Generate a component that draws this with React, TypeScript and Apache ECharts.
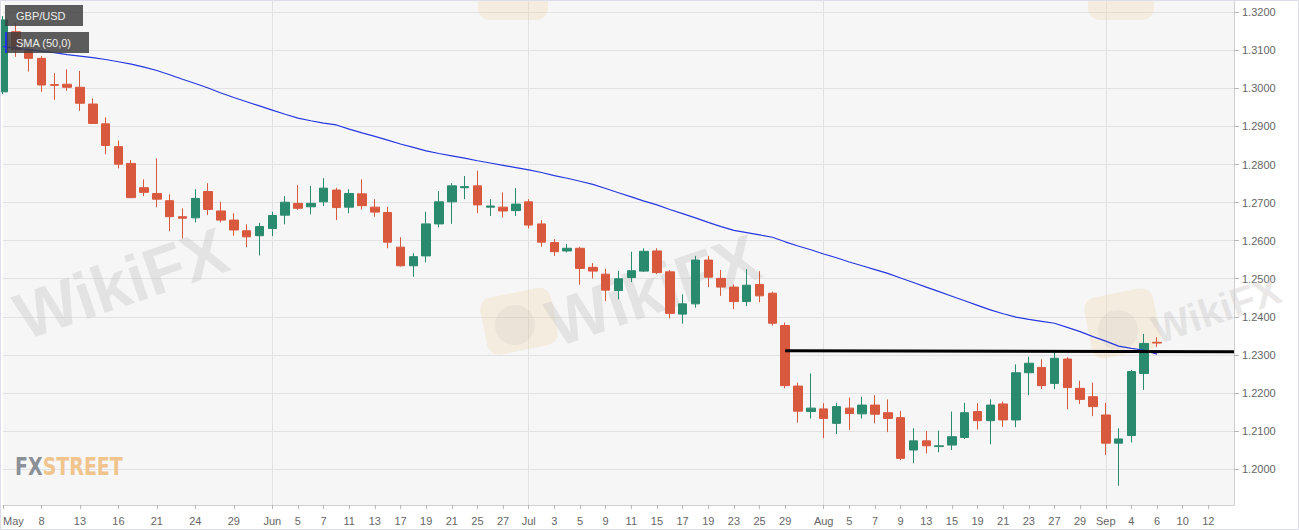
import React, { useEffect, useRef } from "react";
import * as echarts from "echarts";

// trading days (MM-DD, 2019), incl. empty future days on the right
const dates = [
  "05-03","05-06","05-07","05-08","05-09","05-10","05-13","05-14","05-15","05-16","05-17",
  "05-20","05-21","05-22","05-23","05-24","05-27","05-28","05-29","05-30","05-31",
  "06-03","06-04","06-05","06-06","06-07","06-10","06-11","06-12","06-13","06-14",
  "06-17","06-18","06-19","06-20","06-21","06-24","06-25","06-26","06-27","06-28",
  "07-01","07-02","07-03","07-04","07-05","07-08","07-09","07-10","07-11","07-12",
  "07-15","07-16","07-17","07-18","07-19","07-22","07-23","07-24","07-25","07-26",
  "07-29","07-30","07-31","08-01","08-02","08-05","08-06","08-07","08-08","08-09",
  "08-12","08-13","08-14","08-15","08-16","08-19","08-20","08-21","08-22","08-23",
  "08-26","08-27","08-28","08-29","08-30","09-02","09-03","09-04","09-05","09-06",
  "09-09","09-10","09-11","09-12","09-13","09-16",
];

const labelDates = [
  "05-03","05-08","05-13","05-16","05-21","05-24","05-29",
  "06-03","06-05","06-07","06-11","06-13","06-17","06-19","06-21","06-25","06-27",
  "07-01","07-03","07-05","07-09","07-11","07-15","07-17","07-19","07-23","07-25","07-29",
  "08-01","08-05","08-07","08-09","08-13","08-15","08-19","08-21","08-23","08-27","08-29",
  "09-02","09-04","09-06","09-10","09-12",
];
const monthNames: Record<string, string> = {
  "05-03": "May", "06-03": "Jun", "07-01": "Jul", "08-01": "Aug", "09-02": "Sep",
};
const monthLines = ["06-03", "07-01", "08-01", "09-02"];

const opens = [
  1.2991,1.3149,1.3101,1.3079,1.3010,1.3011,1.3003,1.2959,1.2907,1.2847,1.2803,
  1.2739,1.2724,1.2705,1.2663,1.2660,1.2729,1.2678,1.2654,1.2626,1.2613,
  1.2632,1.2667,1.2698,1.2689,1.2702,1.2733,1.2688,1.2723,1.2688,1.2674,
  1.2583,1.2534,1.2560,1.2644,1.2702,1.2739,1.2744,1.2688,1.2688,1.2679,
  1.2702,1.2644,1.2595,1.2573,1.2580,1.2530,1.2512,1.2469,1.2503,1.2520,
  1.2573,1.2518,1.2407,1.2434,1.2549,1.2501,1.2478,1.2440,1.2485,1.2462,
  1.2377,1.2218,1.2151,1.2158,1.2120,1.2160,1.2145,1.2168,1.2148,1.2135,
  1.2050,1.2074,1.2059,1.2063,1.2083,1.2151,1.2127,1.2171,1.2129,1.2253,
  1.2267,1.2225,1.2289,1.2212,1.2190,1.2142,1.2068,1.2088,1.2251,1.2333,
];
const closes = [
  1.3180,1.3101,1.3079,1.3009,1.3008,1.3003,1.2961,1.2908,1.2850,1.2801,1.2713,
  1.2727,1.2709,1.2663,1.2659,1.2711,1.2682,1.2654,1.2628,1.2610,1.2637,
  1.2666,1.2701,1.2685,1.2698,1.2738,1.2687,1.2724,1.2692,1.2675,1.2596,
  1.2534,1.2558,1.2644,1.2702,1.2744,1.2742,1.2694,1.2691,1.2678,1.2696,
  1.2641,1.2596,1.2571,1.2580,1.2527,1.2520,1.2470,1.2500,1.2521,1.2572,
  1.2516,1.2409,1.2434,1.2549,1.2504,1.2478,1.2440,1.2483,1.2455,1.2383,
  1.2219,1.2152,1.2160,1.2133,1.2164,1.2146,1.2168,1.2144,1.2133,1.2028,
  1.2074,1.2061,1.2061,1.2085,1.2148,1.2127,1.2168,1.2129,1.2253,1.2278,
  1.2219,1.2291,1.2214,1.2183,1.2164,1.2068,1.2079,1.2256,1.2330,1.2331,
];
const lows = [
  1.2985,1.3083,1.3044,1.2991,1.2970,1.2994,1.2941,1.2907,1.2827,1.2790,1.2712,
  1.2717,1.2688,1.2625,1.2606,1.2648,1.2667,1.2648,1.2613,1.2583,1.2561,
  1.2612,1.2643,1.2681,1.2669,1.2691,1.2654,1.2672,1.2682,1.2663,1.2580,
  1.2532,1.2505,1.2543,1.2635,1.2644,1.2709,1.2672,1.2665,1.2661,1.2665,
  1.2632,1.2584,1.2560,1.2569,1.2484,1.2501,1.2441,1.2446,1.2491,1.2518,
  1.2512,1.2396,1.2382,1.2424,1.2478,1.2455,1.2420,1.2428,1.2438,1.2377,
  1.2212,1.2122,1.2133,1.2081,1.2092,1.2103,1.2133,1.2120,1.2097,1.2024,
  1.2015,1.2041,1.2044,1.2050,1.2079,1.2104,1.2065,1.2111,1.2110,1.2194,
  1.2210,1.2210,1.2157,1.2171,1.2139,1.2037,1.1956,1.2070,1.2208,1.2321,
];
const highs = [
  1.3190,1.3171,1.3110,1.3085,1.3040,1.3050,1.3046,1.2974,1.2924,1.2863,1.2812,
  1.2761,1.2816,1.2722,1.2685,1.2735,1.2751,1.2702,1.2672,1.2643,1.2647,
  1.2676,1.2717,1.2746,1.2744,1.2764,1.2739,1.2735,1.2761,1.2709,1.2689,
  1.2609,1.2567,1.2676,1.2730,1.2751,1.2770,1.2784,1.2709,1.2727,1.2738,
  1.2709,1.2654,1.2604,1.2591,1.2584,1.2541,1.2526,1.2521,1.2571,1.2580,
  1.2580,1.2523,1.2459,1.2560,1.2560,1.2523,1.2485,1.2525,1.2520,1.2466,
  1.2385,1.2227,1.2251,1.2173,1.2173,1.2188,1.2190,1.2194,1.2183,1.2153,
  1.2107,1.2100,1.2101,1.2151,1.2174,1.2173,1.2183,1.2177,1.2275,1.2295,
  1.2288,1.2308,1.2294,1.2232,1.2227,1.2174,1.2107,1.2260,1.2355,1.2346,
];
const sma50 = [
  1.3110,1.3106,1.3102,1.3098,1.3094,1.3089,1.3085,1.3081,1.3076,1.3070,1.3064,
  1.3056,1.3047,1.3036,1.3024,1.3013,1.3001,1.2988,1.2976,1.2965,1.2954,
  1.2943,1.2932,1.2922,1.2915,1.2909,1.2904,1.2893,1.2883,1.2874,1.2864,
  1.2854,1.2845,1.2836,1.2829,1.2823,1.2817,1.2810,1.2804,1.2798,1.2792,
  1.2786,1.2779,1.2771,1.2764,1.2756,1.2748,1.2737,1.2726,1.2715,1.2704,
  1.2694,1.2682,1.2671,1.2660,1.2648,1.2637,1.2627,1.2621,1.2615,1.2609,
  1.2597,1.2586,1.2576,1.2565,1.2555,1.2544,1.2534,1.2524,1.2514,1.2502,
  1.2490,1.2478,1.2466,1.2454,1.2442,1.2430,1.2418,1.2408,1.2399,1.2393,
  1.2388,1.2383,1.2372,1.2361,1.2348,1.2336,1.2323,1.2317,1.2312,1.2302,
];

const resistanceFrom = "07-29";
const resistanceTo = "09-16";
const resistanceStart = 1.2311;
const resistanceEnd = 1.2308;

const yMin = 1.19055;
const yMax = 1.32323;

const UP = "#2a8a6d";
const DOWN = "#d9593f";

export default function App() {
  const ref = useRef<HTMLDivElement>(null);

  useEffect(() => {
    if (!ref.current) return;
    const chart = echarts.init(ref.current, undefined, { renderer: "svg" });
    const labelSet = new Set(labelDates);
    const monthSet = new Set(monthLines);
    const ohlc = opens.map((o, i) => [o, closes[i], lows[i], highs[i]]);

    const wmFill = "rgba(200,196,196,0.38)";
    const wmFont = 'bold 66px "Liberation Sans", Arial, sans-serif';
    const wmFontSmall = 'bold 40px "Liberation Sans", Arial, sans-serif';
    const logoFill = "rgba(240,205,130,0.2)";
    const logoFont = 'bold 24px "Liberation Sans Narrow", "DejaVu Sans Condensed", sans-serif';

    chart.setOption({
      animation: false,
      backgroundColor: "#ffffff",
      grid: {
        left: 0,
        right: 65,
        top: 0,
        bottom: 25,
        show: true,
        backgroundColor: "#f6f6f7",
        borderWidth: 0,
      },
      xAxis: {
        type: "category",
        data: dates,
        boundaryGap: false,
        axisLine: { lineStyle: { color: "#cfd0d4" } },
        axisTick: {
          show: true,
          length: 4,
          interval: (_i: number, v: string) => labelSet.has(v),
          lineStyle: { color: "#b8b8b8" },
        },
        axisLabel: {
          interval: (_i: number, v: string) => labelSet.has(v),
          formatter: (v: string) => monthNames[v] || String(parseInt(v.slice(3), 10)),
          color: "#666",
          fontSize: 11,
          fontFamily: '"Liberation Sans", Arial, sans-serif',
          margin: 10,
          alignMinLabel: "left",
        },
        splitLine: {
          show: true,
          interval: (_i: number, v: string) => monthSet.has(v),
          lineStyle: { color: "#e2e2e4", width: 1 },
        },
      },
      yAxis: {
        type: "value",
        position: "right",
        min: yMin,
        max: yMax,
        splitNumber: 4,
        minInterval: 0.01,
        maxInterval: 0.01,
        scale: true,
        axisLine: { show: true, lineStyle: { color: "#cfd0d4" } },
        axisTick: { show: true, length: 5, lineStyle: { color: "#b8b8b8" } },
        axisLabel: {
          formatter: (v: number) => v.toFixed(4),
          color: "#666",
          fontSize: 11,
          fontFamily: '"Liberation Sans", Arial, sans-serif',
          margin: 8,
          showMinLabel: false,
          showMaxLabel: false,
        },
        splitLine: { show: true, lineStyle: { color: "#e2e2e4", width: 1 } },
      },
      series: [
        {
          type: "candlestick",
          data: ohlc,
          barWidth: 9,
          clip: true,
          itemStyle: {
            color: UP,
            color0: DOWN,
            borderColor: UP,
            borderColor0: DOWN,
            borderWidth: 1,
          },
        },
        {
          type: "line",
          name: "SMA (50,0)",
          data: sma50,
          showSymbol: false,
          symbol: "none",
          smooth: false,
          lineStyle: { color: "#2638e0", width: 1.2 },
          markLine: {
            silent: true,
            symbol: ["none", "none"],
            label: { show: false },
            lineStyle: { color: "#000", width: 3, type: "solid" },
            data: [
              [
                { coord: [resistanceFrom, resistanceStart] },
                { coord: [resistanceTo, resistanceEnd] },
              ],
            ],
          },
        },
      ],
      graphic: [
        // watermarks
        { type: "rect", z: 1, shape: { x: 478, y: -40, width: 70, height: 60, r: 12 }, style: { fill: logoFill } },
        { type: "rect", z: 1, shape: { x: 1088, y: -40, width: 66, height: 60, r: 12 }, style: { fill: logoFill } },
        { type: "rect", z: 1, x: 478, y: 300, rotation: 0.2, shape: { x: 0, y: 0, width: 72, height: 58, r: 12 }, style: { fill: logoFill } },
        { type: "circle", z: 1, shape: { cx: 515, cy: 325, r: 20 }, style: { fill: "rgba(190,185,185,0.18)" } },
        { type: "rect", z: 1, x: 1082, y: 300, rotation: 0.2, shape: { x: 0, y: 0, width: 70, height: 62, r: 12 }, style: { fill: logoFill } },
        { type: "circle", z: 1, shape: { cx: 1118, cy: 330, r: 20 }, style: { fill: "rgba(190,185,185,0.18)" } },
        { type: "text", z: 1, x: 28, y: 350, rotation: 0.33, style: { text: "WikiFX", font: wmFont, fill: wmFill, textVerticalAlign: "bottom", verticalAlign: "bottom" } },
        { type: "text", z: 1, x: 560, y: 357, rotation: 0.33, style: { text: "WikiFX", font: wmFont, fill: wmFill, textVerticalAlign: "bottom", verticalAlign: "bottom" } },
        { type: "text", z: 1, x: 1160, y: 350, rotation: 0.33, style: { text: "WikiFX", font: wmFontSmall, fill: wmFill, textVerticalAlign: "bottom", verticalAlign: "bottom" } },
        // legend boxes
        { type: "rect", z: 100, shape: { x: 5, y: 5, width: 78, height: 21 }, style: { fill: "rgba(62,62,62,0.84)" } },
        {
          type: "text", z: 101,
          style: { text: "GBP/USD", x: 16, y: 15.5, fill: "#ececec", font: '11px "Liberation Sans", Arial, sans-serif', textVerticalAlign: "middle", verticalAlign: "middle" },
        },
        { type: "rect", z: 100, shape: { x: 5, y: 32, width: 84, height: 21 }, style: { fill: "rgba(62,62,62,0.84)" } },
        { type: "rect", z: 101, shape: { x: 5, y: 32, width: 2, height: 21 }, style: { fill: "#1f35e6" } },
        {
          type: "text", z: 101,
          style: { text: "SMA (50,0)", x: 16, y: 42.5, fill: "#ececec", font: '11px "Liberation Sans", Arial, sans-serif', textVerticalAlign: "middle", verticalAlign: "middle" },
        },
        // FXSTREET logo
        {
          type: "text", z: 50, x: 15, y: 467, scaleX: 0.88,
          style: {
            x: 0, y: 0,
            text: "{a|FX}{b|STREET}",
            textVerticalAlign: "middle",
            verticalAlign: "middle",
            font: logoFont,
            rich: {
              a: { fill: "#8b9098", font: logoFont },
              b: { fill: "#f0c48c", font: logoFont },
            },
          },
        },
        // outer frame
        { type: "rect", z: 120, shape: { x: 0.5, y: 0.5, width: 1298, height: 529 }, style: { fill: "none", stroke: "#dcdde8", lineWidth: 1 } },
      ],
    });

    return () => chart.dispose();
  }, []);

  return (
    <div
      ref={ref}
      style={{ position: "fixed", left: 0, top: 0, width: 1299, height: 530, background: "#fff" }}
    />
  );
}
